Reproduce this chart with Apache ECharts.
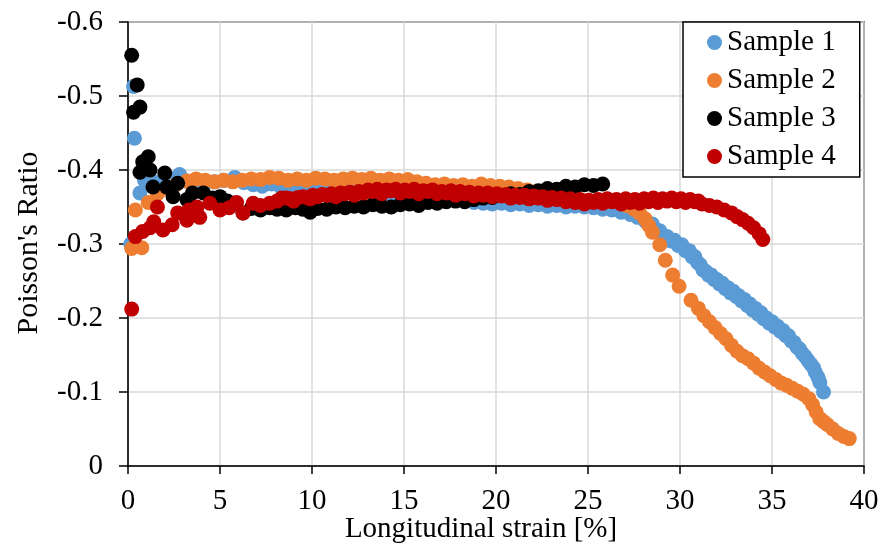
<!DOCTYPE html>
<html>
<head>
<meta charset="utf-8">
<script src="https://cdn.jsdelivr.net/npm/echarts@6/dist/echarts.min.js"></script>
<style>
html,body{margin:0;padding:0;background:#fff;}
#c{width:882px;height:551px;}
</style>
</head>
<body>
<div id="c"></div>
<script>
// ---- data ----
const seriesNames = ['Sample 1', 'Sample 2', 'Sample 3', 'Sample 4'];
const xTicks = [0, 5, 10, 15, 20, 25, 30, 35, 40];
const yTicks = [-0.6, -0.5, -0.4, -0.3, -0.2, -0.1, 0];

const s1Strain = [0.15,0.3,0.35,0.65,0.9,1.2,1.6,2.0,2.4,2.8,3.2,3.7,4.2,4.7,5.2,5.8,6.3,6.8,7.3,7.8,8.3,8.8,9.3,9.8,10.3,10.8,11.3,11.8,12.3,12.8,13.3,13.8,14.3,14.8,15.3,15.8,16.3,16.8,17.3,17.8,18.3,18.8,19.3,19.8,20.3,20.8,21.3,21.8,22.3,22.8,23.3,23.8,24.3,24.8,25.3,25.8,26.3,26.8,27.3,27.7,28.1,28.5,28.9,29.3,29.7,30.1,30.5,30.8,31.1,31.4,31.7,32.0,32.3,32.6,32.9,33.2,33.5,33.8,34.1,34.4,34.7,35.0,35.3,35.6,35.9,36.2,36.5,36.8,37.1,37.35,37.6,37.8,
  29.5,29.9,30.3,30.65,30.95,31.25,31.55,31.85,32.15,32.45,32.75,33.05,33.35,33.65,33.95,34.25,34.55,34.85,35.15,35.45,35.75,36.05,36.35,36.65,36.95,37.25,37.5];
const s1Ratio = [-0.30,-0.513,-0.443,-0.369,-0.386,-0.38,-0.383,-0.386,-0.388,-0.394,-0.385,-0.383,-0.382,-0.384,-0.386,-0.39,-0.383,-0.38,-0.378,-0.381,-0.377,-0.376,-0.377,-0.375,-0.374,-0.376,-0.373,-0.377,-0.372,-0.371,-0.37,-0.368,-0.367,-0.366,-0.365,-0.364,-0.362,-0.361,-0.36,-0.359,-0.358,-0.356,-0.355,-0.354,-0.355,-0.353,-0.354,-0.352,-0.353,-0.351,-0.352,-0.35,-0.351,-0.35,-0.349,-0.347,-0.346,-0.343,-0.34,-0.336,-0.331,-0.327,-0.318,-0.31,-0.305,-0.299,-0.291,-0.283,-0.272,-0.263,-0.258,-0.252,-0.247,-0.241,-0.236,-0.23,-0.225,-0.219,-0.213,-0.207,-0.2,-0.195,-0.189,-0.183,-0.176,-0.167,-0.158,-0.148,-0.138,-0.127,-0.113,-0.1,
  -0.304,-0.298,-0.291,-0.283,-0.275,-0.265,-0.258,-0.252,-0.246,-0.24,-0.234,-0.229,-0.223,-0.217,-0.211,-0.205,-0.199,-0.193,-0.188,-0.182,-0.176,-0.169,-0.161,-0.152,-0.143,-0.133,-0.12];

const s2Strain = [0.2,0.4,0.75,1.1,1.6,2.1,2.6,3.2,3.7,4.2,4.7,5.2,5.7,6.2,6.7,7.2,7.7,8.2,8.7,9.2,9.7,10.2,10.7,11.2,11.7,12.2,12.7,13.2,13.7,14.2,14.7,15.2,15.7,16.2,16.7,17.2,17.7,18.2,18.7,19.2,19.7,20.2,20.7,21.2,21.7,22.2,22.7,23.2,23.7,24.2,24.7,25.2,25.7,26.2,26.7,27.1,27.5,27.8,28.1,28.3,28.5,28.9,29.2,29.6,29.95,30.6,31.0,31.3,31.6,31.9,32.2,32.5,32.8,33.1,33.4,33.7,34.0,34.3,34.6,34.9,35.2,35.5,35.8,36.1,36.4,36.7,37.0,37.2,37.4,37.6,37.8,38.0,38.3,38.6,38.9,39.2];
const s2Ratio = [-0.294,-0.346,-0.295,-0.356,-0.368,-0.375,-0.38,-0.385,-0.388,-0.386,-0.384,-0.386,-0.384,-0.386,-0.388,-0.387,-0.39,-0.389,-0.386,-0.388,-0.386,-0.389,-0.388,-0.386,-0.388,-0.389,-0.387,-0.389,-0.386,-0.388,-0.386,-0.387,-0.384,-0.382,-0.38,-0.381,-0.379,-0.38,-0.378,-0.381,-0.379,-0.378,-0.377,-0.375,-0.373,-0.371,-0.368,-0.366,-0.363,-0.361,-0.359,-0.358,-0.357,-0.358,-0.356,-0.352,-0.347,-0.342,-0.334,-0.325,-0.316,-0.299,-0.278,-0.258,-0.243,-0.224,-0.213,-0.203,-0.195,-0.187,-0.179,-0.172,-0.163,-0.155,-0.149,-0.145,-0.139,-0.132,-0.127,-0.122,-0.117,-0.112,-0.109,-0.105,-0.101,-0.097,-0.091,-0.083,-0.073,-0.064,-0.06,-0.056,-0.05,-0.044,-0.04,-0.037];

const s3Strain = [0.2,0.5,0.3,0.65,0.8,1.1,0.65,1.2,1.36,2.0,2.1,2.45,2.7,3.2,3.5,4.1,4.6,5.0,5.4,5.7,6.25,6.7,7.2,7.7,8.1,8.6,9.1,9.5,9.9,10.3,10.8,11.3,11.8,12.3,12.8,13.3,13.8,14.3,14.8,15.3,15.8,16.3,16.8,17.3,17.8,18.3,18.8,19.3,19.8,20.3,20.8,21.3,21.8,22.3,22.8,23.3,23.8,24.3,24.8,25.3,25.8];
const s3Ratio = [-0.555,-0.515,-0.478,-0.485,-0.411,-0.418,-0.397,-0.40,-0.377,-0.396,-0.377,-0.364,-0.382,-0.36,-0.369,-0.369,-0.362,-0.364,-0.358,-0.355,-0.342,-0.348,-0.346,-0.349,-0.347,-0.346,-0.349,-0.347,-0.343,-0.348,-0.347,-0.35,-0.349,-0.351,-0.35,-0.353,-0.351,-0.35,-0.353,-0.354,-0.352,-0.356,-0.355,-0.357,-0.358,-0.357,-0.36,-0.362,-0.363,-0.366,-0.368,-0.367,-0.371,-0.372,-0.375,-0.374,-0.378,-0.377,-0.38,-0.379,-0.381];

const s4Strain = [0.2,0.4,0.8,1.2,1.4,1.6,1.9,2.4,2.7,3.2,3.3,3.75,3.9,4.45,5.0,5.5,5.9,6.25,6.8,7.2,7.7,8.1,8.6,9.0,9.5,9.9,10.3,10.8,11.3,11.8,12.3,12.8,13.3,13.8,14.3,14.8,15.3,15.8,16.3,16.8,17.3,17.8,18.3,18.8,19.3,19.8,20.3,20.8,21.3,21.8,22.3,22.8,23.3,23.8,24.3,24.8,25.3,25.8,26.3,26.8,27.3,27.8,28.3,28.8,29.3,29.8,30.3,30.8,31.2,31.6,32.0,32.4,32.8,33.1,33.4,33.7,34.0,34.3,34.5,
  8.35,8.85,9.25,9.75,10.05,10.55,11.05,11.55,12.05,12.55,13.05,13.55,14.05,14.55,15.05,15.55,16.05,16.55,17.05,17.55,18.05,18.55,19.05,19.55,20.05,20.55,21.05,21.55,22.05,22.55,23.05,23.55,24.05,24.55,25.05,25.55,26.05,26.55,27.05,27.55,28.05,28.55,29.05,29.55,30.05,30.55,31.0];
const s4Ratio = [-0.212,-0.31,-0.317,-0.322,-0.33,-0.35,-0.319,-0.326,-0.342,-0.332,-0.346,-0.35,-0.336,-0.355,-0.346,-0.349,-0.356,-0.342,-0.355,-0.352,-0.355,-0.358,-0.362,-0.358,-0.364,-0.361,-0.364,-0.366,-0.364,-0.368,-0.366,-0.369,-0.371,-0.368,-0.372,-0.369,-0.371,-0.368,-0.371,-0.368,-0.369,-0.366,-0.368,-0.365,-0.366,-0.364,-0.365,-0.362,-0.363,-0.361,-0.362,-0.359,-0.36,-0.357,-0.356,-0.354,-0.356,-0.355,-0.357,-0.354,-0.356,-0.355,-0.357,-0.356,-0.358,-0.357,-0.356,-0.357,-0.354,-0.352,-0.35,-0.346,-0.342,-0.337,-0.333,-0.328,-0.322,-0.314,-0.306,
  -0.362,-0.361,-0.363,-0.363,-0.366,-0.367,-0.368,-0.369,-0.37,-0.371,-0.373,-0.374,-0.373,-0.374,-0.373,-0.374,-0.372,-0.373,-0.371,-0.372,-0.371,-0.37,-0.369,-0.369,-0.368,-0.367,-0.366,-0.366,-0.365,-0.364,-0.363,-0.362,-0.361,-0.36,-0.359,-0.36,-0.361,-0.36,-0.361,-0.36,-0.361,-0.362,-0.361,-0.362,-0.361,-0.36,-0.358];

const colors = ['#5B9BD5', '#ED7D31', '#000000', '#C00000'];
// ---- build ----
const strains = [s1Strain, s2Strain, s3Strain, s4Strain];
const ratios = [s1Ratio, s2Ratio, s3Ratio, s4Ratio];
const FONT = '"Liberation Serif", "Times New Roman", serif';

const chart = echarts.init(document.getElementById('c'), null, {renderer: 'canvas'});
const series = seriesNames.map((name, i) => ({
  name: name,
  type: 'scatter',
  symbol: 'circle',
  symbolSize: 15,
  itemStyle: {color: colors[i], opacity: 1},
  data: strains[i].map((x, k) => [x, ratios[i][k]]),
  z: 2 + i,
  animation: false
}));

chart.setOption({
  animation: false,
  backgroundColor: '#fff',
  grid: {left: 128, right: 18, top: 22, bottom: 85, show: true, borderColor: '#000', borderWidth: 1.5, backgroundColor: 'transparent'},
  xAxis: {
    type: 'value', min: xTicks[0], max: xTicks[xTicks.length - 1], interval: xTicks[1] - xTicks[0],
    axisLine: {show: true, onZero: false, lineStyle: {color: '#000', width: 1.5}},
    axisTick: {show: true, inside: false, length: 8, lineStyle: {color: '#000', width: 1.5}},
    axisLabel: {color: '#000', fontFamily: FONT, fontSize: 29, margin: 21},
    splitLine: {show: true, lineStyle: {color: '#D9D9D9', width: 1.5}}
  },
  yAxis: {
    type: 'value', min: yTicks[0], max: yTicks[yTicks.length - 1], interval: 0.1, inverse: true,
    axisLine: {show: true, onZero: false, lineStyle: {color: '#000', width: 1.5}},
    axisTick: {show: true, inside: false, length: 9, lineStyle: {color: '#000', width: 1.5}},
    axisLabel: {color: '#000', fontFamily: FONT, fontSize: 29, margin: 25,
      formatter: v => (Math.abs(v) < 1e-9 ? '0' : v.toFixed(1))},
    splitLine: {show: true, lineStyle: {color: '#D9D9D9', width: 1.5}}
  },
  legend: {
    show: true, orient: 'vertical', left: 683, top: 22,
    padding: [6, 24, 6, 24], itemGap: 9, itemWidth: 15, itemHeight: 15,
    icon: 'circle', backgroundColor: '#fff', borderColor: '#000', borderWidth: 1.5,
    textStyle: {color: '#000', fontFamily: FONT, fontSize: 29},
    data: seriesNames
  },
  graphic: [
    {type: 'text', style: {text: 'Longitudinal strain [%]', x: 481, y: 529, align: 'center', verticalAlign: 'middle', fontFamily: FONT, fontSize: 29, fill: '#000'}},
    {type: 'text', style: {text: "Poisson's Ratio", x: 0, y: 0, align: 'center', verticalAlign: 'middle', fontFamily: FONT, fontSize: 30, fill: '#000'}, x: 29, y: 243, rotation: Math.PI / 2}
  ],
  series: series
});
</script>
</body>
</html>
